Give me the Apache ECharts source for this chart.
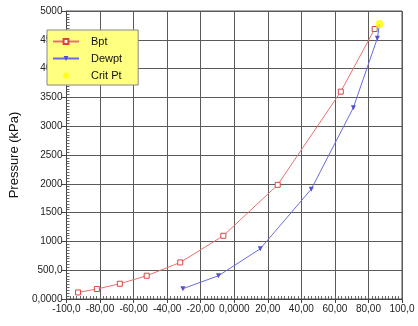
<!DOCTYPE html>
<html><head><meta charset="utf-8">
<script src="https://cdn.jsdelivr.net/npm/echarts@6/dist/echarts.min.js"></script>
<style>html,body{margin:0;padding:0;background:#fff}#c{width:418px;height:326px}</style>
</head><body><div id="c"></div>
<script>
const bptX = [-93.1, -81.9, -68.2, -52.2, -32.2, -6.5, 25.9, 63.5, 83.7];
const bptY = [114, 173, 265, 404, 635, 1098, 1982, 3600, 4687];
const dewX = [-30.6, -9.4, 15.5, 45.9, 71.0, 85.3];
const dewY = [179, 404, 872, 1907, 3322, 4526];
const critX = [86.6];
const critY = [4774];
const xTickValues = [-100, -80, -60, -40, -20, 0, 20, 40, 60, 80, 100];
const xTickLabels = ['-100,0', '-80,00', '-60,00', '-40,00', '-20,00', '0,0000', '20,00', '40,00', '60,00', '80,00', '100,0'];
const yTickValues = [0, 500, 1000, 1500, 2000, 2500, 3000, 3500, 4000, 4500, 5000];
const yTickLabels = ['0,0000', '500,0', '1000', '1500', '2000', '2500', '3000', '3500', '4000', '4500', '5000'];

const font = 'Liberation Sans, Arial, sans-serif';
function lab(vals, labels) { return v => { const i = vals.findIndex(t => Math.abs(t - v) < 1e-6); return i >= 0 ? labels[i] : ''; }; }
function withCrit(xs, ys) {
  const d = xs.map((x, i) => [x, ys[i]]);
  d.push({ value: [critX[0], critY[0]], symbol: 'none' });
  return d;
}
const chart = echarts.init(document.getElementById('c'));
chart.setOption({
  animation: false,
  grid: { left: 62, right: 16, top: 11, bottom: 27, show: true, borderColor: '#555', borderWidth: 1 },
  xAxis: [{
    type: 'value', min: -100, max: 100, interval: 20,
    axisLine: { onZero: false, lineStyle: { color: '#444' } },
    axisTick: { show: true, length: 4, lineStyle: { color: '#444' } },
    splitLine: { lineStyle: { color: '#5a5a5a', width: 1 } },
    axisLabel: { formatter: lab(xTickValues, xTickLabels), color: '#222', fontFamily: font, fontSize: 10, margin: 5 }
  }, {
    type: 'value', min: -100, max: 100, interval: 20, position: 'bottom',
    axisLine: { show: false, onZero: false }, splitLine: { show: false }, axisLabel: { show: false },
    axisTick: { show: false, inside: true },
    minorTick: { show: true, splitNumber: 10, length: 3, lineStyle: { color: '#666' } }
  }],
  yAxis: [{
    type: 'value', min: 0, max: 5000, interval: 500,
    name: 'Pressure (kPa)', nameLocation: 'middle', nameGap: 42,
    nameTextStyle: { fontFamily: font, fontSize: 13, color: '#111' },
    axisLine: { show: true, onZero: false, lineStyle: { color: '#444' } },
    axisTick: { show: true, length: 5, lineStyle: { color: '#444' } },
    splitLine: { lineStyle: { color: '#5a5a5a', width: 1 } },
    axisLabel: { formatter: lab(yTickValues, yTickLabels), color: '#222', fontFamily: font, fontSize: 10, margin: 4 }
  }, {
    type: 'value', min: 0, max: 5000, interval: 500, position: 'left',
    axisLine: { show: false, onZero: false }, splitLine: { show: false }, axisLabel: { show: false },
    axisTick: { show: false, inside: true },
    minorTick: { show: true, splitNumber: 10, length: 3, lineStyle: { color: '#666' } }
  }],
  legend: {
    orient: 'vertical', left: 47, top: 30,
    backgroundColor: '#ffff80', borderColor: '#888', borderWidth: 1,
    padding: [6, 16, 4, 5], itemGap: 6, itemWidth: 26, itemHeight: 6,
    textStyle: { fontFamily: font, fontSize: 11, color: '#111', padding: [0, 0, 0, 7] },
    data: ['Bpt', 'Dewpt', 'Crit Pt']
  },
  series: [{
    name: 'Bpt', type: 'line', data: withCrit(bptX, bptY),
    symbol: 'rect', symbolSize: 5, showSymbol: true,
    lineStyle: { color: '#e87070', width: 1 },
    itemStyle: { color: '#fff', borderColor: '#e04040', borderWidth: 1 }
  }, {
    name: 'Dewpt', type: 'line', data: withCrit(dewX, dewY),
    symbol: 'triangle', symbolRotate: 180, symbolSize: 5,
    lineStyle: { color: '#6a6ae0', width: 1 },
    itemStyle: { color: '#5050d0' }
  }, {
    name: 'Crit Pt', type: 'scatter', data: critX.map((x, i) => [x, critY[i]]),
    symbol: 'circle', symbolSize: 8,
    itemStyle: { color: '#ffff00' }, z: 5
  }]
});
</script></body></html>
